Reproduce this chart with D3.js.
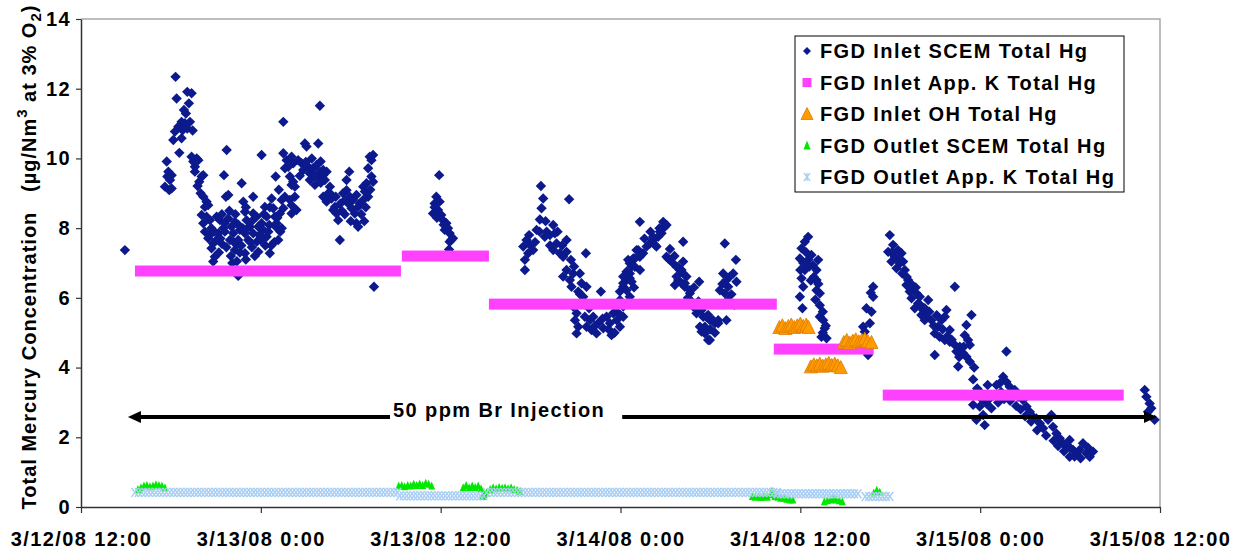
<!DOCTYPE html>
<html><head><meta charset="utf-8">
<script src="https://cdn.jsdelivr.net/npm/d3@7"></script>
<style>
body{margin:0;background:#fff}
svg text{font-family:"Liberation Sans",Arial,sans-serif;font-weight:bold;fill:#000}
</style>
</head><body>
<svg id="c" width="1239" height="550"></svg>
<script>
// ---------- DATA (hours after 3/12/08 12:00, value in µg/Nm3) ----------
const xTickHours = [0, 12, 24, 36, 48, 60, 72];
const xTickLabels = ["3/12/08 12:00", "3/13/08 0:00", "3/13/08 12:00", "3/14/08 0:00", "3/14/08 12:00", "3/15/08 0:00", "3/15/08 12:00"];
const yTickValues = [0, 2, 4, 6, 8, 10, 12, 14];
const seriesNames = ["FGD Inlet SCEM Total Hg", "FGD Inlet App. K Total Hg", "FGD Inlet OH Total Hg", "FGD Outlet SCEM Total Hg", "FGD Outlet App. K Total Hg"];
const yTitle = ["Total Mercury Concentration   (µg/Nm", "3", " at 3% O", "2", ")"];

const inletSCEM = [
[2.93,7.37],[6.31,12.34],[7.09,11.91],[7.38,11.87],[6.38,11.72],[7.2,11.58],[7.0,11.29],[6.87,11.39],[6.71,11.05],[6.93,11.01],[7.27,11.05],[6.49,10.91],[6.78,10.81],[6.27,10.77],[7.09,10.86],[7.45,10.8],[6.16,10.53],[6.71,10.58],[6.56,10.16],[5.72,9.91],[5.83,9.62],[6.05,9.52],[5.76,9.48],[5.94,9.38],[5.6,9.19],[5.89,9.09],[6.05,9.14],[7.38,10.05],[7.72,10.0],[7.49,9.91],[7.6,9.76],[7.83,9.95],[7.6,9.62],[8.05,9.48],[7.89,9.33],[8.16,9.52],[7.78,9.21],[7.98,9.0],[8.16,8.9],[8.38,8.76],[8.27,8.61],[8.49,8.66],[8.05,8.38],[8.38,8.33],[8.6,8.23],[8.16,8.14],[8.27,7.9],[8.6,7.8],[8.49,7.71],[8.82,7.56],[9.05,7.66],[8.71,7.42],[8.93,7.18],[8.82,7.04],[10.49,6.63],[9.27,8.23],[9.6,8.14],[9.05,8.33],[9.83,8.28],[9.49,8.0],[9.16,7.85],[9.67,8.9],[9.83,8.95],[9.54,9.52],[9.72,10.24],[10.05,8.04],[10.27,8.18],[10.16,7.85],[9.94,7.66],[10.38,7.52],[10.27,7.37],[10.49,7.66],[10.6,7.95],[10.72,9.29],[10.83,8.76],[10.94,8.47],[11.05,8.23],[11.27,8.04],[10.94,7.85],[11.16,7.66],[10.94,7.28],[11.49,8.9],[11.49,8.42],[11.72,8.33],[11.83,8.04],[11.49,7.85],[11.72,7.61],[11.83,7.32],[12.05,10.1],[12.05,8.14],[12.16,7.95],[12.39,8.33],[12.27,8.61],[12.56,8.09],[12.6,7.28],[12.39,7.75],[12.72,8.85],[12.83,8.57],[12.94,8.33],[13.0,8.04],[13.16,7.66],[13.05,8.14],[13.27,8.42],[13.39,8.81],[12.99,9.48],[13.5,11.05],[13.5,10.15],[13.72,9.95],[13.61,9.72],[14.05,10.05],[14.16,9.86],[13.83,9.76],[13.5,8.57],[13.94,8.81],[14.05,8.66],[14.27,8.9],[14.38,8.52],[14.05,8.42],[13.94,9.48],[14.16,9.33],[14.27,9.19],[14.05,9.24],[14.49,9.95],[14.72,9.86],[14.94,10.43],[15.05,10.34],[14.83,9.67],[15.16,9.76],[15.27,9.57],[15.49,9.72],[15.72,9.81],[15.94,9.62],[16.16,9.67],[15.83,10.43],[15.99,9.91],[15.94,11.51],[15.27,9.38],[15.61,9.24],[15.83,9.43],[16.16,9.52],[16.39,9.62],[16.27,9.38],[16.61,9.19],[16.16,8.9],[16.39,8.76],[16.61,9.0],[16.72,8.85],[16.94,8.61],[17.05,8.42],[17.16,8.23],[16.83,8.52],[17.27,7.66],[17.49,9.0],[17.72,9.09],[17.94,8.9],[17.61,8.81],[17.83,8.71],[18.05,8.57],[18.27,8.42],[18.16,8.81],[18.38,8.95],[18.6,8.71],[18.49,8.61],[17.9,9.62],[17.72,9.38],[18.38,8.14],[18.49,8.04],[18.83,9.19],[19.05,9.29],[18.94,9.05],[19.16,8.9],[18.83,8.81],[19.27,10.05],[19.38,9.95],[19.16,9.72],[19.49,10.1],[19.38,9.48],[19.49,9.33],[19.55,6.32],
[9.4,7.55],[9.7,7.45],[10.0,7.2],[10.1,7.0],[10.7,7.5],[11.0,7.1],[11.4,7.45],[12.3,7.5],[12.9,7.6],[13.3,7.9],[9.2,7.3],[10.4,7.05],[11.6,7.2],[12.5,7.9],[11.1,8.0],[9.9,8.5],[10.5,8.1],[12.0,7.65],
[8.9,7.9],[9.3,7.7],[9.6,7.9],[10.2,7.6],[10.6,7.3],[10.8,8.0],[11.3,7.6],[11.4,8.2],[11.9,7.8],[12.2,8.4],[12.7,7.5],[13.1,8.3],[13.4,8.0],[13.6,8.9],[13.2,9.1],[12.6,8.6],[11.0,8.6],[10.3,8.4],[9.4,8.4],[8.7,8.0],
[14.6,9.5],[15.0,9.9],[15.4,10.0],[15.6,9.5],[16.0,9.3],[16.5,9.0],[17.0,8.9],[17.3,8.7],[17.6,8.4],[18.0,8.2],[18.7,8.4],[19.0,8.6],[19.3,9.1],[18.9,8.2],[17.4,8.5],
[23.9,9.52],[23.71,8.9],[23.6,8.71],[23.93,8.76],[23.49,8.42],[23.82,8.52],[24.04,8.38],[24.15,8.23],[24.38,8.14],[24.27,7.95],[24.49,8.0],[24.6,7.85],[24.71,7.66],[24.82,7.71],[24.6,7.61],[24.56,7.39],[23.6,8.6],[24.2,8.1],[23.75,8.3],
[30.69,9.21],[30.84,8.85],[32.57,8.83],[30.73,8.57],[30.62,8.25],[30.4,7.95],[31.07,7.9],[31.51,8.09],[31.29,7.8],[30.95,7.75],[31.62,7.85],[29.73,7.66],[29.51,7.47],[29.95,7.52],[30.17,7.37],[29.84,7.28],[29.62,7.09],[29.62,6.8],[32.4,7.66],[31.73,7.56],[31.51,7.37],[31.95,7.28],[32.17,7.18],[32.4,7.32],[32.69,7.09],[33.69,7.28],[32.4,6.8],[32.17,6.61],[32.62,6.51],[32.84,6.7],[33.29,6.7],[32.73,6.32],[33.4,6.42],[33.73,6.32],[33.18,6.18],[33.51,6.03],[32.84,5.75],[33.07,5.56],[32.96,5.36],[33.18,5.17],[33.07,4.98],[33.62,5.46],[33.96,5.36],[34.18,5.46],[33.73,5.17],[34.07,5.08],[34.4,4.98],[34.51,5.27],[34.85,5.13],[35.07,5.46],[35.29,5.27],[35.51,5.56],[35.74,5.36],[35.4,4.93],[35.96,5.17],[34.69,6.18],[35.96,6.18],[36.18,6.32],[36.4,6.51],[36.62,6.7],[36.18,6.61],[36.74,6.89],[36.51,7.09],[36.96,7.13],[37.18,7.37],[37.51,7.28],[37.74,7.47],[37.96,7.56],[38.18,7.66],[38.29,7.52],[38.51,7.75],[38.74,7.85],[38.96,8.04],[38.85,8.18],[37.29,8.18],[35.96,5.94],[36.18,5.75],[36.4,5.84],[36.62,6.03],[35.74,5.6],[36.18,5.46],[39.07,7.18],[39.29,7.09],[39.51,6.99],[39.74,6.89],[39.96,6.8],[40.18,6.7],[39.85,6.51],[39.63,6.37],[40.07,6.42],[40.4,6.61],[40.29,6.32],[40.18,7.61],[41.25,6.46],[40.63,6.13],[40.85,5.84],[41.07,5.56],[41.41,5.65],[41.74,5.46],[41.96,5.36],[42.3,5.27],[42.52,5.36],[41.63,5.17],[41.41,5.03],[41.96,4.79],[42.96,7.56],[42.85,6.7],[43.07,6.51],[43.18,6.32],[42.96,6.13],
[39.07,8.09],[38.63,7.9],[38.18,7.75],[38.4,7.47],[37.29,7.18],[37.07,7.37],[36.85,7.13],[36.62,6.99],[36.96,6.89],[36.4,6.75],[36.62,6.56],[36.18,6.42],[36.4,6.22],[36.74,6.46],[39.18,7.13],[39.85,6.89],[40.18,7.04],[40.07,6.8],[39.74,6.61],[40.29,6.42],[40.63,6.22],[43.7,7.09],[43.3,6.61],[43.52,6.7],[43.74,6.46],[42.63,6.22],[43.18,5.94],[40.63,5.94],[40.85,5.75],[41.52,5.46],[41.3,5.65],[41.85,5.51],[42.18,5.36],[42.52,5.27],[43.07,5.36],[41.3,5.17],[41.63,4.98],[41.85,4.79],
[29.9,7.8],[30.3,7.6],[30.6,7.9],[31.0,8.2],[31.3,7.5],[31.8,7.9],[32.1,7.5],[32.9,6.9],[33.3,6.1],[33.9,5.7],[34.3,5.2],[34.8,5.4],[35.2,5.1],[35.6,5.0],[36.0,5.5],[36.9,6.3],[37.3,6.8],[37.6,7.7],[38.0,7.9],[38.6,8.0],[39.3,7.4],[39.6,7.2],[40.5,6.0],[40.9,6.3],[41.2,5.9],[42.0,5.1],[42.3,5.0],[42.8,6.4],[43.4,6.1],[43.6,5.8],
[48.52,7.75],[48.3,7.61],[48.08,7.42],[47.97,7.13],[48.52,7.09],[48.85,6.94],[49.08,6.8],[49.19,7.09],[48.74,7.23],[48.08,6.56],[48.19,6.32],[49.08,6.51],[49.08,6.22],[49.3,6.13],[47.97,6.03],[48.14,5.7],[49.3,5.79],[49.3,5.46],[49.52,5.36],[49.63,5.13],[49.41,4.88],[49.75,4.84],[52.86,6.32],[52.86,6.03],[52.41,5.7],[52.75,5.6],[52.64,5.27],[52.19,5.17],[52.3,5.03],[52.52,4.36],[48.4,7.3],[48.6,6.9],[48.9,6.6],[48.3,6.8],[49.0,5.95],[49.5,5.6],[52.7,6.15],
[48.0,6.8],[48.2,7.0],[48.7,6.5],[49.2,6.4],[49.5,5.0],[49.7,5.2],
[53.97,7.8],[54.19,7.52],[54.52,7.37],[53.86,7.32],[54.75,7.28],[54.3,7.18],[54.08,7.04],[54.64,6.99],[54.86,7.04],[54.42,6.85],[54.97,6.8],[55.19,6.51],[55.08,6.37],[55.52,6.27],[55.3,6.18],[55.75,6.13],[55.97,6.03],[55.42,5.99],[56.53,5.94],[55.86,5.84],[55.64,5.7],[56.19,5.65],[56.08,5.51],[56.41,5.46],[56.75,5.36],[56.3,5.36],[58.31,6.32],[57.75,5.65],[57.64,5.46],[57.42,5.36],[57.19,5.17],[56.97,4.98],[57.3,4.88],[57.97,5.08],[57.64,4.79],[57.97,4.74],[58.31,4.65],[58.64,4.6],[58.42,4.46],[58.86,4.41],[59.08,4.31],[59.31,4.17],[59.42,5.51],[59.08,5.22],[58.97,4.93],[59.19,4.79],[59.31,4.65],[56.97,4.36],[58.53,4.03],[59.53,3.66],[61.75,4.46],[61.53,3.74],[61.31,3.55],[61.75,3.59],[61.09,3.5],[61.97,3.45],[62.31,3.36],[62.09,3.26],[62.53,3.16],[62.86,3.07],[63.09,2.88],[63.31,2.73],[63.53,2.59],[63.75,2.54],[59.53,2.93],[59.97,2.88],[60.42,2.97],[60.75,2.83],[60.2,2.64],[59.75,2.5],[60.3,2.35],[63.98,2.4],[64.2,2.26],[64.53,2.5],[64.75,2.64],[64.86,2.3],[65.09,2.11],[65.31,1.97],[65.53,1.83],[65.75,1.73],[65.97,1.92],[66.2,1.64],[66.42,1.54],[66.64,1.64],[66.86,1.83],[67.09,1.54],[67.31,1.44],[67.53,1.59],[65.97,1.44],[60.0,3.3],[60.5,3.5],[60.9,3.2],[61.2,3.0],[60.6,3.1],
[54.1,7.3],[54.5,7.1],[54.8,6.7],[55.1,6.6],[55.4,6.4],[55.7,6.3],[56.0,5.8],[56.3,5.7],[56.6,5.6],[56.9,5.2],[57.1,5.5],[57.5,5.1],[57.8,4.9],[58.1,4.8],[58.6,4.3],[58.9,4.6],[59.6,4.0],[59.8,3.4],[60.1,3.1],[61.4,3.3],[61.6,3.1],[62.0,3.05],[62.4,2.9],[62.7,2.8],[63.0,2.6],[63.4,2.45],[63.8,2.2],[64.4,2.05],[64.9,1.9],[65.2,1.75],[65.6,1.6],[66.0,1.7],[66.3,1.45],[66.7,1.4],[67.2,1.7],
[70.98,3.36],[71.09,3.16],[71.31,2.97],[71.42,2.83],[71.2,2.73],[71.64,2.5]
];

// App. K samples: [start hour, end hour, value]
const inletAppK = [[3.6,21.35,6.77],[21.41,27.22,7.2],[27.22,46.43,5.82],[46.23,52.9,4.53],[53.5,69.58,3.21]];
const outletAppK = [[3.6,21.13,0.42],[21.27,27.07,0.32],[27.07,46.47,0.42],[46.47,51.93,0.38],[52.33,54.0,0.3]];

const inletOH = [
[46.6,5.15],[46.8,5.2],[47.0,5.12],[47.2,5.18],[47.4,5.22],[47.6,5.15],[47.8,5.2],[48.0,5.25],[48.2,5.18],[48.4,5.22],[48.55,5.15],
[48.7,4.02],[48.9,4.08],[49.1,4.05],[49.3,4.1],[49.5,4.04],[49.7,4.08],[49.9,4.12],[50.1,4.06],[50.3,4.1],[50.5,4.05],[50.7,4.0],
[50.9,4.72],[51.1,4.78],[51.3,4.7],[51.5,4.76],[51.7,4.8],[51.9,4.74],[52.1,4.78],[52.3,4.82],[52.5,4.75],[52.75,4.72]
];

const outletSCEM = [
[3.8,0.5],[4.0,0.55],[4.2,0.6],[4.4,0.62],[4.6,0.58],[4.8,0.6],[5.0,0.64],[5.2,0.62],[5.4,0.6],[5.6,0.55],
[21.2,0.6],[21.4,0.62],[21.6,0.58],[21.8,0.62],[22.0,0.6],[22.2,0.65],[22.4,0.62],[22.6,0.66],[22.8,0.62],[23.0,0.68],[23.2,0.65],[23.4,0.6],
[25.5,0.55],[25.7,0.62],[25.9,0.55],[26.1,0.6],[26.3,0.56],[26.5,0.6],[26.7,0.52],
[26.8,0.3],[26.9,0.35],[27.05,0.4],
[27.3,0.5],[27.5,0.55],[27.7,0.52],[27.9,0.56],[28.1,0.54],[28.3,0.55],[28.5,0.52],[28.7,0.55],[28.9,0.5],[29.1,0.48],[29.3,0.45],
[44.8,0.3],[45.0,0.28],[45.2,0.3],[45.4,0.27],[45.6,0.3],[45.8,0.28],[46.0,0.35],[46.1,0.45],[46.3,0.3],[46.5,0.28],[46.7,0.25],[46.9,0.25],[47.1,0.22],[47.3,0.2],[47.5,0.2],
[49.6,0.15],[49.8,0.18],[50.0,0.2],[50.2,0.22],[50.4,0.2],[50.6,0.18],[50.8,0.15],
[52.9,0.4],[53.1,0.48],[53.3,0.42]
];

const injectionSpan = [3.13, 71.8];
const injectionLevel = 2.58;
const injectionLabel = "50 ppm Br Injection";
const injectionLabelAt = 27.9;

// ---------- DRAWING ----------
const svg = d3.select("#c");
const x = d3.scaleLinear().domain([0, 72]).range([81, 1160]);
const y = d3.scaleLinear().domain([0, 14]).range([507, 19]);
const C = {navy:"#0c1a8e", pink:"#ff40ff", orange:"#ff9a00", orangeS:"#dd7a00", green:"#00e800", blue:"#a8cef4"};
const LS = "1.4px";

// plot frame (top & right)
svg.append("path")
  .attr("d", `M${x(0)},${y(14)}H${x(72)}V${y(0)}`)
  .attr("fill","none").attr("stroke","#a8a8a8").attr("stroke-width",1.5);

const diamond = "M0,-5.2L5.2,0L0,5.2L-5.2,0Z";
const bigTri = "M0,-7L6.5,6L-6.5,6Z";
const smallTri = "M0,-4.5L3.5,3.5L-3.5,3.5Z";
const xMark = "M-3.5,-4.5L3.5,4.5M3.5,-4.5L-3.5,4.5";

// Inlet SCEM
svg.append("g").selectAll("path").data(inletSCEM).join("path")
  .attr("d", diamond).attr("transform", d => `translate(${x(d[0])},${y(d[1])})`)
  .attr("fill", C.navy);

// Inlet App K
svg.append("g").selectAll("rect").data(inletAppK).join("rect")
  .attr("x", d => x(d[0])).attr("width", d => x(d[1]) - x(d[0]))
  .attr("y", d => y(d[2]) - 5.5).attr("height", 11).attr("fill", C.pink);

// Inlet OH
svg.append("g").selectAll("path").data(inletOH).join("path")
  .attr("d", bigTri).attr("transform", d => `translate(${x(d[0])},${y(d[1])})`)
  .attr("fill", C.orange).attr("stroke", C.orangeS).attr("stroke-width", 0.8);

// Outlet SCEM
svg.append("g").selectAll("path").data(outletSCEM).join("path")
  .attr("d", smallTri).attr("transform", d => `translate(${x(d[0])},${y(d[1])})`)
  .attr("fill", C.green);

// Outlet App K (dense x markers along each sample period)
const ob = svg.append("g").attr("fill","none").attr("stroke", C.blue).attr("stroke-width", 1.5);
outletAppK.forEach(s => {
  const xs = d3.range(x(s[0]), x(s[1]) + 0.01, 3.5);
  ob.selectAll(null).data(xs).join("path")
    .attr("d", xMark).attr("transform", px => `translate(${px},${y(s[2])})`);
});

// Axes
const gx = svg.append("g").attr("transform", `translate(0,${y(0)})`)
  .call(d3.axisBottom(x).tickValues(xTickHours).tickFormat((d,i) => xTickLabels[i]).tickSize(6).tickSizeOuter(0).tickPadding(19));
const gy = svg.append("g").attr("transform", `translate(${x(0)},0)`)
  .call(d3.axisLeft(y).tickValues(yTickValues).tickFormat(d3.format("d")).tickSize(5).tickSizeOuter(0).tickPadding(5));
[gx, gy].forEach(g => {
  g.select(".domain").attr("stroke","#333").attr("stroke-width",1.5);
  g.selectAll(".tick line").attr("stroke","#333").attr("stroke-width",1.2);
  g.selectAll("text").attr("font-size", 20).attr("font-family", null).style("letter-spacing", LS).attr("fill","#000");
});

// Y title
const yt = svg.append("text")
  .attr("transform", `translate(36,257) rotate(-90)`)
  .attr("text-anchor","middle").attr("font-size",20).style("letter-spacing", "1px").style("white-space","pre");
yt.append("tspan").text(yTitle[0]);
yt.append("tspan").text(yTitle[1]).attr("font-size",15).attr("dy",-9);
yt.append("tspan").text(yTitle[2]).attr("dy",9);
yt.append("tspan").text(yTitle[3]).attr("font-size",15).attr("dy",5);
yt.append("tspan").text(yTitle[4]).attr("dy",-5);

// Injection arrow
const ag = svg.append("g");
const ay = y(injectionLevel), ax0 = x(injectionSpan[0]), ax1 = x(injectionSpan[1]);
ag.append("line").attr("x1", ax0 + 8).attr("x2", ax1 - 8).attr("y1", ay).attr("y2", ay)
  .attr("stroke","#000").attr("stroke-width",4);
ag.append("path").attr("d", `M${ax0},${ay}L${ax0+13},${ay-6}L${ax0+13},${ay+6}Z`).attr("fill","#000");
ag.append("path").attr("d", `M${ax1},${ay}L${ax1-13},${ay-6}L${ax1-13},${ay+6}Z`).attr("fill","#000");
const at = ag.append("text").attr("x", x(injectionLabelAt)).attr("y", ay).attr("dy", 0)
  .attr("text-anchor","middle").attr("font-size",20).style("letter-spacing", LS).text(injectionLabel);
const bb = at.node().getBBox();
ag.insert("rect","text").attr("x", bb.x - 3).attr("y", ay - 4).attr("width", bb.width + 20).attr("height", 8).attr("fill","#fff");

// Legend
const lg = svg.append("g");
lg.append("rect").attr("x",795).attr("y",36).attr("width",329).attr("height",156)
  .attr("fill","#fff").attr("stroke","#000").attr("stroke-width",1);
const rows = seriesNames.map((n,i) => ({n, i, cy: 51 + i * 31.5}));
const mk = lg.selectAll("g.row").data(rows).join("g").attr("class","row")
  .attr("transform", d => `translate(807,${d.cy})`);
mk.filter(d => d.i === 0).append("path").attr("d","M0,-4L4,0L0,4L-4,0Z").attr("fill", C.navy);
mk.filter(d => d.i === 1).append("rect").attr("x",-4.5).attr("y",-4.5).attr("width",9).attr("height",9).attr("fill", C.pink);
mk.filter(d => d.i === 2).append("path").attr("d","M0,-6.5L6,5.5L-6,5.5Z").attr("fill", C.orange).attr("stroke", C.orangeS).attr("stroke-width",0.8);
mk.filter(d => d.i === 3).append("path").attr("d","M0,-5L3.5,4L-3.5,4Z").attr("fill", C.green);
mk.filter(d => d.i === 4).append("path").attr("d","M-3,-4L3,4M3,-4L-3,4M0,-4V4").attr("stroke", C.blue).attr("stroke-width",1.3).attr("fill","none");
mk.append("text").attr("x", 13).attr("y", 7).attr("font-size",20).style("letter-spacing", LS).text(d => d.n);
</script>
</body></html>
